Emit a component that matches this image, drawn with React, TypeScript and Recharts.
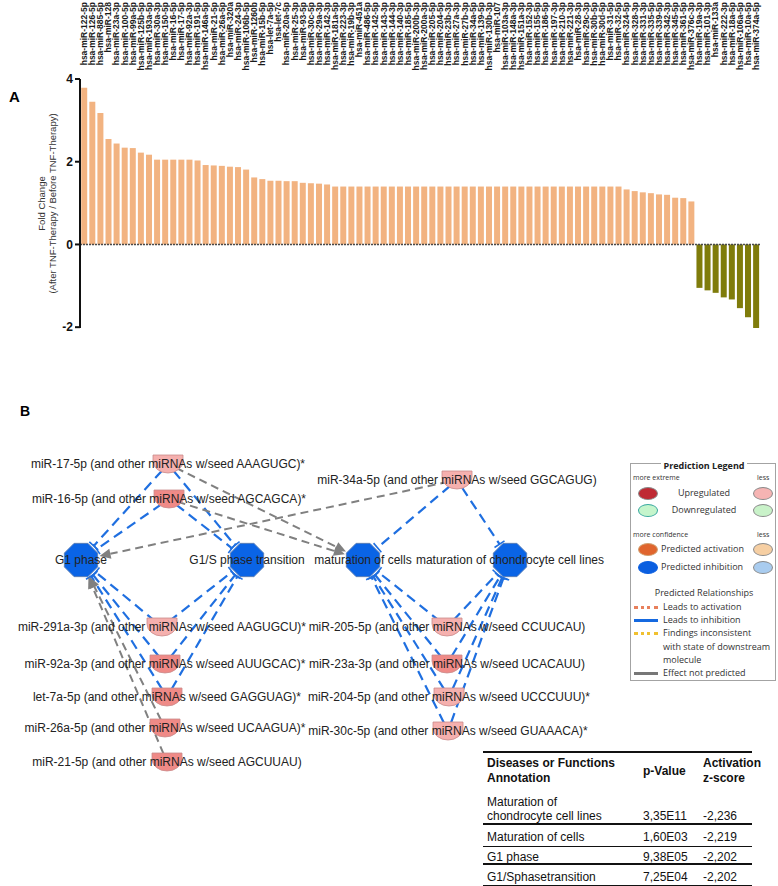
import React from "react";
import { BarChart, Bar, XAxis, YAxis, Cell, ReferenceLine, ScatterChart, Scatter } from "recharts";

// ---- panel A data ----
const mirnaLabels = [
  "hsa-miR-122-5p", "hsa-miR-126-5p", "hsa-miR-885-5p", "hsa-miR-128", "hsa-miR-23a-3p",
  "hsa-miR-100-5p", "hsa-miR-99a-5p", "hsa-miR-125b-5p", "hsa-miR-193a-5p", "hsa-miR-30a-3p",
  "hsa-miR-150-5p", "hsa-miR-16-5p", "hsa-miR-17-5p", "hsa-miR-92a-3p", "hsa-miR-191-5p",
  "hsa-miR-146a-5p", "hsa-miR-21-5p", "hsa-miR-26a-5p", "hsa-miR-320a", "hsa-miR-24-3p",
  "hsa-miR-106b-5p", "hsa-miR-1260b", "hsa-miR-15b-5p", "hsa-let-7a-5p", "hsa-let-7c",
  "hsa-miR-20a-5p", "hsa-miR-25-3p", "hsa-miR-93-5p", "hsa-miR-30c-5p", "hsa-miR-29a-3p",
  "hsa-miR-142-3p", "hsa-miR-181a-5p", "hsa-miR-223-3p", "hsa-miR-19b-3p", "hsa-miR-451a",
  "hsa-miR-486-5p", "hsa-miR-142-5p", "hsa-miR-143-3p", "hsa-miR-144-3p", "hsa-miR-140-3p",
  "hsa-miR-185-5p", "hsa-miR-200b-3p", "hsa-miR-200a-3p", "hsa-miR-205-5p", "hsa-miR-204-5p",
  "hsa-miR-23b-3p", "hsa-miR-27a-3p", "hsa-miR-27b-3p", "hsa-miR-34a-5p", "hsa-miR-139-5p",
  "hsa-miR-130b-3p", "hsa-miR-107", "hsa-miR-103a-3p", "hsa-miR-148a-3p", "hsa-miR-151a-3p",
  "hsa-miR-152-3p", "hsa-miR-155-5p", "hsa-miR-186-5p", "hsa-miR-197-3p", "hsa-miR-210-3p",
  "hsa-miR-221-3p", "hsa-miR-28-3p", "hsa-miR-29c-3p", "hsa-miR-30b-5p", "hsa-miR-30d-5p",
  "hsa-miR-31-5p", "hsa-miR-32-5p", "hsa-miR-324-5p", "hsa-miR-328-3p", "hsa-miR-331-3p",
  "hsa-miR-335-5p", "hsa-miR-339-5p", "hsa-miR-342-3p", "hsa-miR-345-5p", "hsa-miR-361-5p",
  "hsa-miR-376c-3p", "hsa-miR-19a-3p", "hsa-miR-101-3p", "hsa-miR-133a", "hsa-miR-222-3p",
  "hsa-miR-18a-5p", "hsa-miR-106a-5p", "hsa-miR-10a-5p", "hsa-miR-374a-5p",
];

const foldChange = [
  3.79, 3.45, 3.18, 2.55, 2.44, 2.34, 2.33, 2.22, 2.17, 2.05,
  2.05, 2.05, 2.05, 2.05, 2.03, 1.92, 1.91, 1.9, 1.88, 1.87,
  1.81, 1.62, 1.58, 1.54, 1.54, 1.53, 1.53, 1.49, 1.48, 1.47,
  1.45, 1.4, 1.4, 1.4, 1.4, 1.4, 1.4, 1.4, 1.4, 1.4,
  1.4, 1.4, 1.4, 1.4, 1.4, 1.4, 1.4, 1.4, 1.4, 1.4,
  1.4, 1.4, 1.4, 1.4, 1.4, 1.4, 1.4, 1.4, 1.4, 1.4,
  1.4, 1.4, 1.4, 1.4, 1.4, 1.4, 1.4, 1.33, 1.29, 1.26,
  1.24, 1.21, 1.2, 1.13, 1.12, 1.04, -1.05, -1.11, -1.17, -1.28,
  -1.33, -1.54, -1.76, -2.02,
];

const yTicks = [-2, 0, 2, 4];

// ---- panel B data (network layout, in page pixels) ----
const mirNodes = [
  { id: "mir17", label: "miR-17-5p (and other miRNAs w/seed AAAGUGC)*", x: 168, y: 464, dark: false },
  { id: "mir16", label: "miR-16-5p (and other miRNAs w/seed AGCAGCA)*", x: 169, y: 499, dark: true },
  { id: "mir34a", label: "miR-34a-5p (and other miRNAs w/seed GGCAGUG)", x: 457, y: 480, dark: false },
  { id: "mir291a", label: "miR-291a-3p (and other miRNAs w/seed AAGUGCU)*", x: 162, y: 627, dark: false },
  { id: "mir92a", label: "miR-92a-3p (and other miRNAs w/seed AUUGCAC)*", x: 165, y: 664, dark: true },
  { id: "let7a", label: "let-7a-5p (and other miRNAs w/seed GAGGUAG)*", x: 167, y: 697, dark: true },
  { id: "mir26a", label: "miR-26a-5p (and other miRNAs w/seed UCAAGUA)*", x: 165, y: 728, dark: true },
  { id: "mir21", label: "miR-21-5p (and other miRNAs w/seed AGCUUAU)", x: 167, y: 762, dark: true },
  { id: "mir205", label: "miR-205-5p (and other miRNAs w/seed CCUUCAU)", x: 447, y: 627, dark: false },
  { id: "mir23a", label: "miR-23a-3p (and other miRNAs w/seed UCACAUU)", x: 447, y: 664, dark: true },
  { id: "mir204", label: "miR-204-5p (and other miRNAs w/seed UCCCUUU)*", x: 449, y: 697, dark: false },
  { id: "mir30c", label: "miR-30c-5p (and other miRNAs w/seed GUAAACA)*", x: 448, y: 731, dark: false },
];

const funcNodes = [
  { id: "g1", label: "G1 phase", x: 81, y: 560 },
  { id: "g1s", label: "G1/S phase transition", x: 247, y: 560 },
  { id: "matCells", label: "maturation of cells", x: 363, y: 560 },
  { id: "matChond", label: "maturation of chondrocyte cell lines", x: 510, y: 560 },
];

const inhibitEdges = [
  ["mir17", "g1"], ["mir17", "g1s"], ["mir16", "g1"], ["mir16", "g1s"],
  ["mir34a", "matCells"], ["mir34a", "matChond"],
  ["mir291a", "g1"], ["mir291a", "g1s"], ["mir92a", "g1"], ["mir92a", "g1s"],
  ["let7a", "g1"], ["let7a", "g1s"],
  ["mir205", "matCells"], ["mir205", "matChond"], ["mir23a", "matCells"], ["mir23a", "matChond"],
  ["mir204", "matCells"], ["mir204", "matChond"], ["mir30c", "matCells"], ["mir30c", "matChond"],
];

const unpredictedEdges = [
  ["mir17", "matCells"], ["mir16", "matCells"], ["mir34a", "g1"], ["mir26a", "g1"], ["mir21", "g1"],
];

const tableRows = [
  { name: ["Maturation of", "chondrocyte cell lines"], p: "3,35E11", z: "-2,236" },
  { name: ["Maturation of cells"], p: "1,60E03", z: "-2,219" },
  { name: ["G1 phase"], p: "9,38E05", z: "-2,202" },
  { name: ["G1/Sphasetransition"], p: "7,25E04", z: "-2,202" },
];

const FONT = "'Liberation Sans', Arial, sans-serif";
const LEG_FONT = "'Open Sans', 'DejaVu Sans', sans-serif";
const UP = "#f2b381";
const DOWN = "#7f7c0b";
const BLUE = "#1f6fe0";

const barData = mirnaLabels.map((name, i) => ({ name, value: foldChange[i] }));
const allNodes = [...mirNodes, ...funcNodes];
const nodeById = (id: string) => allNodes.find((n) => n.id === id)!;

function TopTick(props: any) {
  const { x, payload } = props;
  return (
    <text
      x={x}
      y={2}
      transform={`rotate(-90, ${x}, 2)`}
      textAnchor="end"
      dy="0.35em"
      fontSize={8.5}
      fontWeight="bold"
      fontFamily={FONT}
      fill="#1a1a1a"
    >
      {payload.value}
    </text>
  );
}

function FoldLabel(props: any) {
  const { viewBox } = props;
  const cy = viewBox.y + viewBox.height / 2;
  return (
    <g fontFamily={FONT} fontSize={9.5} fill="#333" textAnchor="middle">
      <text x={42} y={cy} transform={`rotate(-90, 42, ${cy})`} dy="0.35em">
        Fold Change
      </text>
      <text x={53} y={cy} transform={`rotate(-90, 53, ${cy})`} dy="0.35em">
        (After TNF-Therapy / Before TNF-Therapy)
      </text>
    </g>
  );
}

function EdgeShape(props: any) {
  const { x1, y1, x2, y2, kind } = props;
  if ([x1, y1, x2, y2].some((v) => typeof v !== "number")) return null;
  const dx = x2 - x1;
  const dy = y2 - y1;
  const len = Math.hypot(dx, dy);
  const ux = dx / len;
  const uy = dy / len;
  const sx = x1 + ux * 9;
  const sy = y1 + uy * 9;
  const ex = x2 - ux * 19;
  const ey = y2 - uy * 19;
  const px = -uy;
  const py = ux;
  if (kind === "inhibit") {
    return (
      <g>
        <line x1={sx} y1={sy} x2={ex} y2={ey} stroke={BLUE} strokeWidth={2.2} strokeDasharray="10 6" />
        <line x1={ex + px * 6} y1={ey + py * 6} x2={ex - px * 6} y2={ey - py * 6} stroke={BLUE} strokeWidth={1.6} />
      </g>
    );
  }
  const bx = ex - ux * 11;
  const by = ey - uy * 11;
  return (
    <g>
      <line x1={sx} y1={sy} x2={bx} y2={by} stroke="#808080" strokeWidth={2} strokeDasharray="8 5" />
      <polygon
        points={`${ex},${ey} ${bx + px * 5},${by + py * 5} ${bx - px * 5},${by - py * 5}`}
        fill="#808080"
      />
    </g>
  );
}

function MirShape(props: any) {
  const { cx, cy, payload } = props;
  const fill = payload.dark ? "#ef8a87" : "#f5b0ae";
  return (
    <g>
      <path
        d={`M${cx - 15},${cy - 9} H${cx + 15} V${cy - 3} A15,12 0 0 1 ${cx - 15},${cy - 3} Z`}
        fill={fill}
        stroke="#c98a8a"
        strokeWidth={0.8}
      />
      <text x={cx} y={cy} dy="0.35em" textAnchor="middle" fontFamily={FONT} fontSize={12} fill="#222">
        {payload.label}
      </text>
    </g>
  );
}

function FuncShape(props: any) {
  const { cx, cy, payload } = props;
  const r = 18;
  const pts = Array.from({ length: 8 }, (_, k) => {
    const a = ((22.5 + k * 45) * Math.PI) / 180;
    return `${cx + r * Math.cos(a)},${cy + r * Math.sin(a)}`;
  }).join(" ");
  return (
    <g>
      <polygon points={pts} fill="#0a64e6" stroke="#5a7fb8" strokeWidth={1} />
      <text x={cx} y={cy} dy="0.35em" textAnchor="middle" fontFamily={FONT} fontSize={12} fill="#222">
        {payload.label}
      </text>
    </g>
  );
}

const abs = (left: number, top: number, extra: React.CSSProperties = {}): React.CSSProperties => ({
  position: "absolute",
  left,
  top,
  whiteSpace: "nowrap",
  ...extra,
});

function LegText({ x, y, children, size = 9, bold = false, center = false }: any) {
  return (
    <div
      style={abs(center ? 0 : x, y - 7, {
        lineHeight: "14px",
        fontSize: size,
        fontWeight: bold ? "bold" : "normal",
        color: "#333",
        width: center ? 146 : undefined,
        textAlign: center ? "center" : "left",
      })}
    >
      {children}
    </div>
  );
}

function Ellipse({ x, y, fill, border = "#8a8a8a" }: any) {
  return (
    <div
      style={abs(x, y - 6, {
        width: 18,
        height: 11,
        borderRadius: "50%",
        background: fill,
        border: `1px solid ${border}`,
      })}
    />
  );
}

function LegLine({ y, color, dotted = false }: any) {
  return (
    <div
      style={abs(3, y - 1.5, {
        width: 24,
        height: 0,
        borderTop: `3px ${dotted ? "dotted" : "solid"} ${color}`,
      })}
    />
  );
}

function Legend() {
  return (
    <div
      style={abs(630, 463, {
        width: 146,
        height: 218,
        border: "1px solid #a3a3a3",
        fontFamily: LEG_FONT,
        boxSizing: "border-box",
      })}
    >
      <div style={abs(0, -8, { width: 146, textAlign: "center", lineHeight: "14px" })}>
        <span style={{ background: "#fff", padding: "0 2px", fontSize: 9, fontWeight: "bold", color: "#222" }}>
          Prediction Legend
        </span>
      </div>
      <LegText x={2} y={14} size={7}>more extreme</LegText>
      <LegText x={126} y={14} size={7}>less</LegText>
      <Ellipse x={7} y={29} fill="#bf2a33" />
      <LegText center y={29}>Upregulated</LegText>
      <Ellipse x={122} y={29} fill="#f6b4b3" />
      <Ellipse x={7} y={46} fill="#c5f5cc" border="#3aa9a0" />
      <LegText center y={46}>Downregulated</LegText>
      <Ellipse x={122} y={46} fill="#c9f2c9" />
      <LegText x={2} y={71} size={7}>more confidence</LegText>
      <LegText x={126} y={71} size={7}>less</LegText>
      <Ellipse x={7} y={85} fill="#e0652e" border="#d0a070" />
      <LegText x={30} y={85}>Predicted activation</LegText>
      <Ellipse x={122} y={85} fill="#f6cfa3" />
      <Ellipse x={7} y={103} fill="#0b5fe0" border="#0b5fe0" />
      <LegText x={30} y={103}>Predicted inhibition</LegText>
      <Ellipse x={122} y={103} fill="#a9ccef" />
      <LegText center y={129}>Predicted Relationships</LegText>
      <LegLine y={143} color="#e8805c" dotted />
      <LegText x={32} y={143}>Leads to activation</LegText>
      <LegLine y={156} color="#1569e0" />
      <LegText x={32} y={156}>Leads to inhibition</LegText>
      <LegLine y={169} color="#f0c030" dotted />
      <LegText x={32} y={169}>Findings inconsistent</LegText>
      <LegText x={32} y={183}>with state of downstream</LegText>
      <LegText x={32} y={196}>molecule</LegText>
      <LegLine y={209} color="#777" />
      <LegText x={32} y={209}>Effect not predicted</LegText>
    </div>
  );
}

function TableText({ x, y, children, bold = false }: any) {
  return (
    <div
      style={abs(x, y - 8, {
        lineHeight: "16px",
        fontSize: 12,
        fontWeight: bold ? "bold" : "normal",
        color: "#111",
        fontFamily: FONT,
      })}
    >
      {children}
    </div>
  );
}

function Rule({ y, w = 1 }: any) {
  return <div style={abs(483, y - w / 2, { width: 269, height: w, background: "#111" })} />;
}

function ResultsTable() {
  const rowY = [816, 837, 857, 877];
  const ruleY = [824, 846, 864, 885];
  const ruleW = [2, 1, 2, 1];
  return (
    <>
      <Rule y={752} w={2} />
      <TableText x={487} y={763} bold>Diseases or Functions</TableText>
      <TableText x={487} y={778} bold>Annotation</TableText>
      <TableText x={643} y={771} bold>p-Value</TableText>
      <TableText x={703} y={763} bold>Activation</TableText>
      <TableText x={703} y={778} bold>z-score</TableText>
      {tableRows.map((r, i) => (
        <React.Fragment key={i}>
          {r.name.length > 1 && <TableText x={487} y={rowY[i] - 14}>{r.name[0]}</TableText>}
          <TableText x={487} y={rowY[i]}>{r.name[r.name.length - 1]}</TableText>
          <TableText x={643} y={rowY[i]}>{r.p}</TableText>
          <TableText x={703} y={rowY[i]}>{r.z}</TableText>
          <Rule y={ruleY[i]} w={ruleW[i]} />
        </React.Fragment>
      ))}
    </>
  );
}

export default function App() {
  return (
    <div
      style={{
        position: "absolute",
        left: 0,
        top: 0,
        width: 778,
        height: 886,
        overflow: "hidden",
        background: "#fff",
        fontFamily: FONT,
      }}
    >
      <div style={abs(0, 0)}>
        <BarChart
          width={778}
          height={340}
          data={barData}
          margin={{ top: 0, right: 18, bottom: 12, left: 0 }}
          barCategoryGap="15%"
        >
          <XAxis
            dataKey="name"
            orientation="top"
            interval={0}
            height={79}
            axisLine={false}
            tickLine={false}
            tick={<TopTick />}
          />
          <YAxis
            domain={[-2, 4]}
            ticks={yTicks}
            tickCount={4}
            width={80}
            axisLine={{ stroke: "#111", strokeWidth: 2 }}
            tickLine={{ stroke: "#111", strokeWidth: 2 }}
            tickSize={5}
            tick={{ fontSize: 12, fontWeight: "bold", fill: "#111", fontFamily: FONT }}
            label={<FoldLabel />}
          />
          <Bar dataKey="value" isAnimationActive={false}>
            {barData.map((d, i) => (
              <Cell key={i} fill={d.value >= 0 ? UP : DOWN} />
            ))}
          </Bar>
          <ReferenceLine y={0} stroke="#4a4a4a" strokeWidth={1.5} strokeDasharray="2 1" />
        </BarChart>
      </div>

      <div style={abs(9, 89, { fontSize: 15, fontWeight: "bold", lineHeight: "16px" })}>A</div>
      <div style={abs(20, 403, { fontSize: 14, fontWeight: "bold", lineHeight: "16px" })}>B</div>

      <div style={abs(0, 400)}>
        <ScatterChart width={800} height={500} margin={{ top: 0, right: 0, bottom: 0, left: 0 }}>
          <XAxis type="number" dataKey="x" domain={[0, 800]} tickCount={5} hide />
          <YAxis type="number" dataKey="y" domain={[400, 900]} tickCount={6} reversed hide />
          {inhibitEdges.map(([s, t], i) => {
            const a = nodeById(s);
            const b = nodeById(t);
            return (
              <ReferenceLine
                key={`i${i}`}
                ifOverflow="visible"
                segment={[{ x: a.x, y: a.y }, { x: b.x, y: b.y }]}
                shape={(p: any) => <EdgeShape {...p} kind="inhibit" />}
              />
            );
          })}
          {unpredictedEdges.map(([s, t], i) => {
            const a = nodeById(s);
            const b = nodeById(t);
            return (
              <ReferenceLine
                key={`u${i}`}
                ifOverflow="visible"
                segment={[{ x: a.x, y: a.y }, { x: b.x, y: b.y }]}
                shape={(p: any) => <EdgeShape {...p} kind="none" />}
              />
            );
          })}
          <Scatter data={funcNodes} shape={FuncShape} isAnimationActive={false} />
          <Scatter data={mirNodes} shape={MirShape} isAnimationActive={false} />
        </ScatterChart>
      </div>

      <Legend />
      <ResultsTable />
    </div>
  );
}
